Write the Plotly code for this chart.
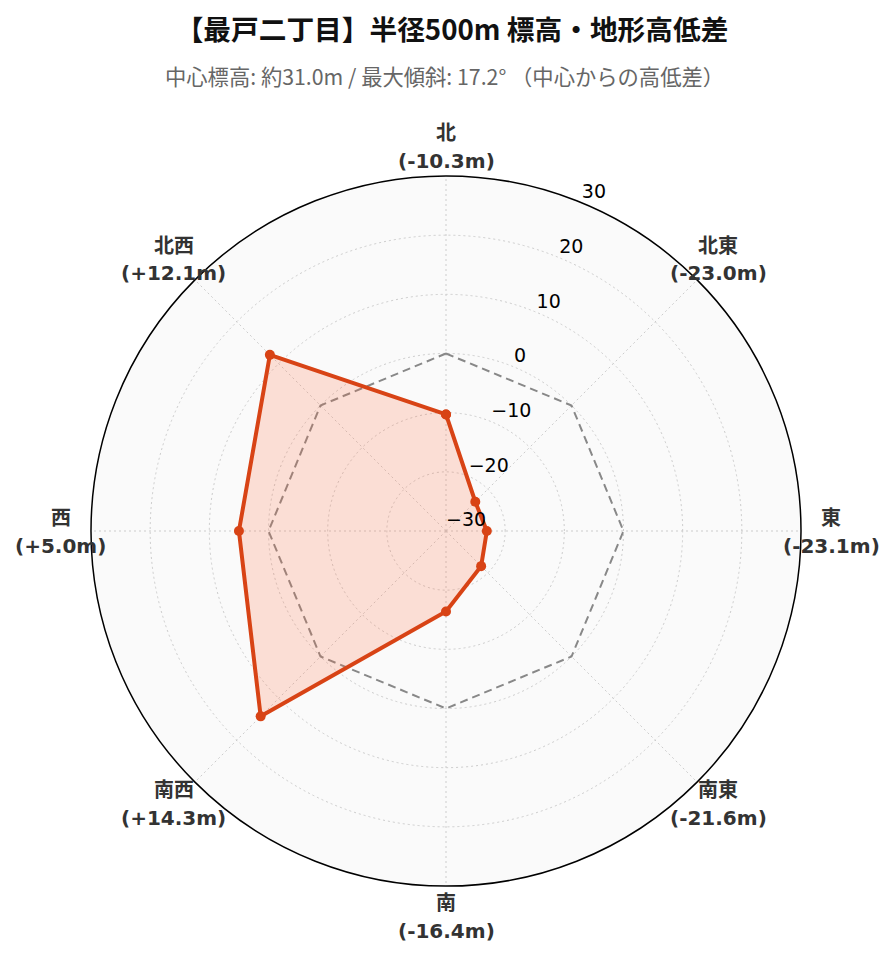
import math
import plotly.graph_objects as go

directions = ["北", "北東", "東", "南東", "南", "南西", "西", "北西"]
angles = [0, 45, 90, 135, 180, 225, 270, 315]
diffs = [-10.3, -23.0, -23.1, -21.6, -16.4, 14.3, 5.0, 12.1]
reference = [0, 0, 0, 0, 0, 0, 0, 0]
radial_ticks = [-30, -20, -10, 0, 10, 20, 30]
radial_range = [-30, 30]
radial_label_angle = 22.5

title_text = "【最戸二丁目】半径500m 標高・地形高低差"
subtitle_text = "中心標高: 約31.0m / 最大傾斜: 17.2° （中心からの高低差）"

LATIN = "DejaVu Sans, Noto Sans CJK JP, sans-serif"
CJK = "Noto Sans CJK JP, DejaVu Sans, sans-serif"

value_labels = [f"({v:+.1f}m)" for v in diffs]

W, H = 896, 962
D = 710
L, T = 83, 168
R = W - L - D
B = H - T - D
label_k = 385 / 355  # angular label distance relative to the outer circle

fig = go.Figure()
# zero reference (dashed)
fig.add_trace(go.Scatterpolar(
    r=reference + [reference[0]],
    theta=angles + [angles[0]],
    mode="lines",
    line=dict(color="#888888", width=2, dash="8px,5px"),
    hoverinfo="skip",
    showlegend=False,
))
# elevation difference
fig.add_trace(go.Scatterpolar(
    r=diffs + [diffs[0]],
    theta=angles + [angles[0]],
    mode="lines+markers",
    line=dict(color="#d84315", width=4),
    marker=dict(color="#d84315", size=10),
    fill="toself",
    fillcolor="rgba(255,112,67,0.2)",
    showlegend=False,
))
# radial tick labels (placed at 22.5°)
fig.add_trace(go.Scatterpolar(
    r=radial_ticks,
    theta=[radial_label_angle] * len(radial_ticks),
    mode="text",
    text=[str(t).replace("-", "\u2212") for t in radial_ticks],
    textposition="top right",
    textfont=dict(size=19, color="black", family=LATIN),
    hoverinfo="skip",
    showlegend=False,
    cliponaxis=False,
))

annotations = [dict(
    text=subtitle_text,
    x=(436 - L) / D, xref="paper", xanchor="center",
    y=(H - B - 68) / D, yref="paper", yanchor="middle",
    showarrow=False,
    font=dict(size=21.3, color="#666666", family=CJK),
)]

# angular (direction) labels, centred outside the circle
for name, val, ang in zip(directions, value_labels, angles):
    a = math.radians(ang)
    px = 0.5 + 0.5 * label_k * math.sin(a)
    py = 0.5 + 0.5 * label_k * math.cos(a)
    annotations.append(dict(
        text=name, x=px, y=py, xref="paper", yref="paper",
        xanchor="center", yanchor="middle", yshift=14.5, showarrow=False,
        font=dict(size=20, color="#333333", family=CJK, weight="bold"),
    ))
    annotations.append(dict(
        text=val, x=px, y=py, xref="paper", yref="paper",
        xanchor="center", yanchor="middle", yshift=-14.5, showarrow=False,
        font=dict(size=20, color="#333333", family=LATIN, weight="bold"),
    ))

fig.update_layout(
    width=W,
    height=H,
    paper_bgcolor="white",
    margin=dict(l=L, r=R, t=T, b=B),
    font=dict(family=LATIN),
    title=dict(
        text=title_text,
        x=444 / W, xanchor="center",
        y=1 - 22 / H, yanchor="middle", yref="container",
        font=dict(size=27.7, color="#111111", family=CJK, weight="bold"),
    ),
    annotations=annotations,
    polar=dict(
        domain=dict(x=[0, 1], y=[0, 1]),
        bgcolor="#fafafa",
        angularaxis=dict(
            direction="clockwise",
            rotation=90,
            thetaunit="degrees",
            tickmode="array",
            tickvals=angles,
            showticklabels=False,
            showline=True,
            linecolor="black",
            linewidth=1.5,
            gridcolor="#cccccc",
            griddash="2px,3px",
            gridwidth=1,
            ticks="",
        ),
        radialaxis=dict(
            range=radial_range,
            tickmode="array",
            tickvals=radial_ticks,
            showticklabels=False,
            showline=False,
            ticks="",
            gridcolor="#cccccc",
            griddash="2px,3px",
            gridwidth=1,
        ),
    ),
)

fig.write_html("out.html")
